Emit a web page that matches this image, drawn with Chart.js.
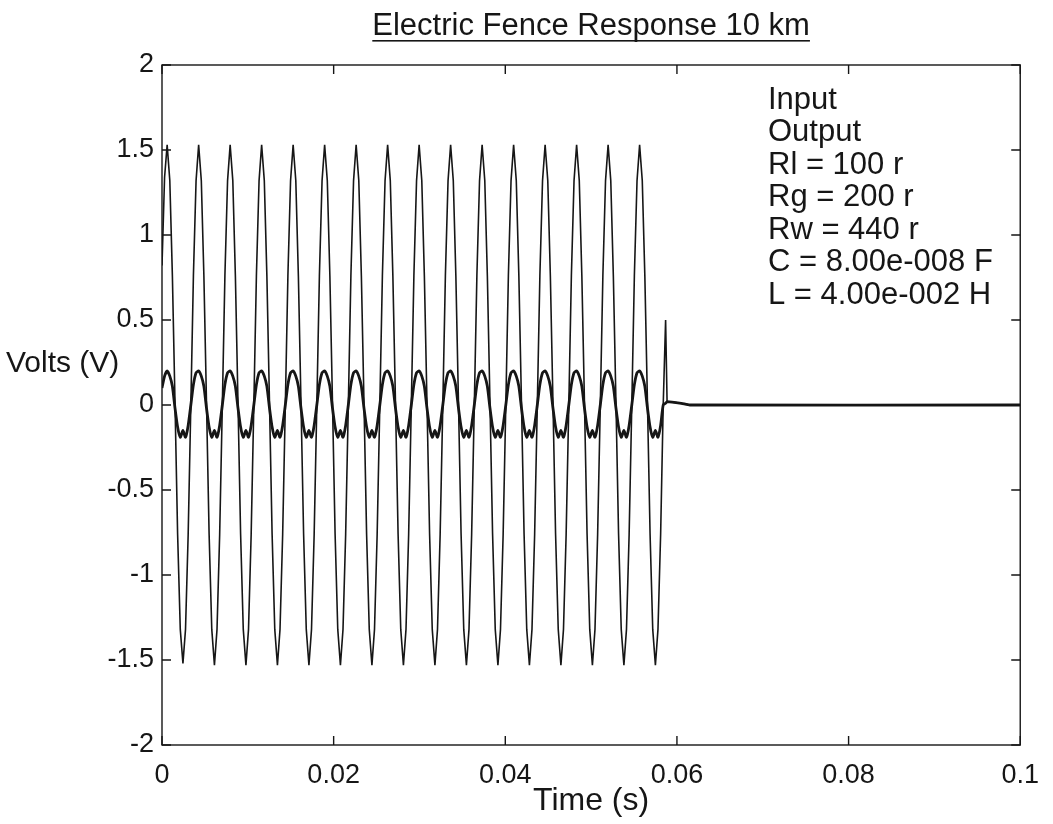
<!DOCTYPE html>
<html>
<head>
<meta charset="utf-8">
<script src="https://cdn.jsdelivr.net/npm/chart.js@4.4.1/dist/chart.umd.min.js"></script>
<style>
  html, body { margin: 0; padding: 0; background: #fff; }
  #wrap { width: 1053px; height: 824px; }
</style>
</head>
<body>
<div id="wrap"><canvas id="fenceChart" width="1053" height="824"></canvas></div>
<script>
// time samples (s)
const timeS = [
  0.00000, 0.00030,
  0.00060, 0.00091, 0.00121, 0.00152, 0.00182, 0.00213, 0.00244, 0.00274, 0.00305, 0.00336, 0.00366, 0.00397,
  0.00427, 0.00458, 0.00488, 0.00519, 0.00549, 0.00580, 0.00611, 0.00641, 0.00672, 0.00703, 0.00733, 0.00764,
  0.00794, 0.00825, 0.00855, 0.00886, 0.00916, 0.00947, 0.00978, 0.01008, 0.01039, 0.01070, 0.01100, 0.01131,
  0.01161, 0.01192, 0.01222, 0.01253, 0.01283, 0.01314, 0.01345, 0.01375, 0.01406, 0.01437, 0.01467, 0.01498,
  0.01528, 0.01559, 0.01589, 0.01620, 0.01650, 0.01681, 0.01712, 0.01742, 0.01773, 0.01804, 0.01834, 0.01865,
  0.01895, 0.01926, 0.01956, 0.01987, 0.02017, 0.02048, 0.02079, 0.02109, 0.02140, 0.02171, 0.02201, 0.02232,
  0.02262, 0.02293, 0.02323, 0.02354, 0.02384, 0.02415, 0.02446, 0.02476, 0.02507, 0.02538, 0.02568, 0.02599,
  0.02629, 0.02660, 0.02690, 0.02721, 0.02751, 0.02782, 0.02813, 0.02843, 0.02874, 0.02905, 0.02935, 0.02966,
  0.02996, 0.03027, 0.03057, 0.03088, 0.03118, 0.03149, 0.03180, 0.03210, 0.03241, 0.03272, 0.03302, 0.03333,
  0.03363, 0.03394, 0.03424, 0.03455, 0.03485, 0.03516, 0.03547, 0.03577, 0.03608, 0.03639, 0.03669, 0.03700,
  0.03730, 0.03761, 0.03791, 0.03822, 0.03852, 0.03883, 0.03914, 0.03944, 0.03975, 0.04006, 0.04036, 0.04067,
  0.04097, 0.04128, 0.04158, 0.04189, 0.04219, 0.04250, 0.04281, 0.04311, 0.04342, 0.04373, 0.04403, 0.04434,
  0.04464, 0.04495, 0.04525, 0.04556, 0.04586, 0.04617, 0.04648, 0.04678, 0.04709, 0.04740, 0.04770, 0.04801,
  0.04831, 0.04862, 0.04892, 0.04923, 0.04953, 0.04984, 0.05015, 0.05045, 0.05076, 0.05107, 0.05137, 0.05168,
  0.05198, 0.05229, 0.05259, 0.05290, 0.05320, 0.05351, 0.05382, 0.05412, 0.05443, 0.05474, 0.05504, 0.05535,
  0.05565, 0.05596, 0.05626, 0.05657, 0.05687, 0.05718, 0.05749, 0.05779, 0.05810, 0.05840,
  0.05868, 0.05885, 0.06050, 0.06150, 0.10000
];

// input voltage (V)
const inputV = [
  0.82, 1.34,
  1.53, 1.32, 0.76, 0.00, -0.76, -1.32, -1.52, -1.32, -0.76, 0.00, 0.76, 1.32,
  1.53, 1.32, 0.76, 0.00, -0.76, -1.32, -1.53, -1.32, -0.76, 0.00, 0.76, 1.32,
  1.53, 1.32, 0.76, 0.00, -0.76, -1.32, -1.53, -1.32, -0.76, 0.00, 0.76, 1.32,
  1.53, 1.32, 0.76, 0.00, -0.76, -1.32, -1.53, -1.32, -0.76, 0.00, 0.76, 1.32,
  1.53, 1.32, 0.76, 0.00, -0.76, -1.32, -1.53, -1.32, -0.76, 0.00, 0.76, 1.32,
  1.53, 1.32, 0.76, 0.00, -0.76, -1.32, -1.53, -1.32, -0.76, 0.00, 0.76, 1.32,
  1.53, 1.32, 0.76, 0.00, -0.76, -1.32, -1.53, -1.32, -0.76, 0.00, 0.76, 1.32,
  1.53, 1.32, 0.76, 0.00, -0.76, -1.32, -1.53, -1.32, -0.76, 0.00, 0.76, 1.32,
  1.53, 1.32, 0.76, 0.00, -0.76, -1.32, -1.53, -1.32, -0.76, 0.00, 0.76, 1.32,
  1.53, 1.32, 0.76, 0.00, -0.76, -1.32, -1.53, -1.32, -0.76, 0.00, 0.76, 1.32,
  1.53, 1.32, 0.76, 0.00, -0.76, -1.32, -1.53, -1.32, -0.76, 0.00, 0.76, 1.32,
  1.53, 1.32, 0.76, 0.00, -0.76, -1.32, -1.53, -1.32, -0.76, 0.00, 0.76, 1.32,
  1.53, 1.32, 0.76, 0.00, -0.76, -1.32, -1.53, -1.32, -0.76, 0.00, 0.76, 1.32,
  1.53, 1.32, 0.76, 0.00, -0.76, -1.32, -1.53, -1.32, -0.76, 0.00, 0.76, 1.32,
  1.53, 1.32, 0.76, 0.00, -0.76, -1.32, -1.53, -1.32, -0.76, 0.00, 0.76, 1.32,
  1.53, 1.32, 0.76, 0.00, -0.76, -1.32, -1.53, -1.32, -0.76, 0.00,
  0.50, 0.02, 0.01, 0.00, 0.00
];

// output voltage (V)
const outputV = [
  0.10, 0.17,
  0.20, 0.17, 0.11, -0.02, -0.13, -0.19, -0.15, -0.19, -0.12, 0.00, 0.12, 0.19,
  0.20, 0.17, 0.11, -0.02, -0.13, -0.19, -0.15, -0.19, -0.12, 0.00, 0.12, 0.19,
  0.20, 0.17, 0.11, -0.02, -0.13, -0.19, -0.15, -0.19, -0.12, 0.00, 0.12, 0.19,
  0.20, 0.17, 0.11, -0.02, -0.13, -0.19, -0.15, -0.19, -0.12, 0.00, 0.12, 0.19,
  0.20, 0.17, 0.11, -0.02, -0.13, -0.19, -0.15, -0.19, -0.12, 0.00, 0.12, 0.19,
  0.20, 0.17, 0.11, -0.02, -0.13, -0.19, -0.15, -0.19, -0.12, 0.00, 0.12, 0.19,
  0.20, 0.17, 0.11, -0.02, -0.13, -0.19, -0.15, -0.19, -0.12, 0.00, 0.12, 0.19,
  0.20, 0.17, 0.11, -0.02, -0.13, -0.19, -0.15, -0.19, -0.12, 0.00, 0.12, 0.19,
  0.20, 0.17, 0.11, -0.02, -0.13, -0.19, -0.15, -0.19, -0.12, 0.00, 0.12, 0.19,
  0.20, 0.17, 0.11, -0.02, -0.13, -0.19, -0.15, -0.19, -0.12, 0.00, 0.12, 0.19,
  0.20, 0.17, 0.11, -0.02, -0.13, -0.19, -0.15, -0.19, -0.12, 0.00, 0.12, 0.19,
  0.20, 0.17, 0.11, -0.02, -0.13, -0.19, -0.15, -0.19, -0.12, 0.00, 0.12, 0.19,
  0.20, 0.17, 0.11, -0.02, -0.13, -0.19, -0.15, -0.19, -0.12, 0.00, 0.12, 0.19,
  0.20, 0.17, 0.11, -0.02, -0.13, -0.19, -0.15, -0.19, -0.12, 0.00, 0.12, 0.19,
  0.20, 0.17, 0.11, -0.02, -0.13, -0.19, -0.15, -0.19, -0.12, 0.00, 0.12, 0.19,
  0.20, 0.17, 0.11, -0.02, -0.13, -0.19, -0.15, -0.19, -0.12, 0.00,
  0.01, 0.02, 0.01, 0.00, 0.00
];

const xTicks = [0, 0.02, 0.04, 0.06, 0.08, 0.1];
const yTicks = [-2, -1.5, -1, -0.5, 0, 0.5, 1, 1.5, 2];
const titleText = 'Electric Fence Response 10 km';
const xLabel = 'Time (s)';
const yLabel = 'Volts (V)';
const noteLines = ['Input', 'Output', 'Rl = 100 r', 'Rg = 200 r', 'Rw = 440 r', 'C = 8.00e-008 F', 'L = 4.00e-002 H'];

const FONT = "'Liberation Sans', Arial, Helvetica, sans-serif";
const INK = '#161616';

function toPoints(vals) {
  return timeS.map((t, i) => ({ x: t, y: vals[i] }));
}

// matlab style frame: box, inward ticks, title, labels, text block
const matlabFrame = {
  id: 'matlabFrame',
  afterDraw(chart) {
    const ctx = chart.ctx;
    const a = chart.chartArea;
    const xs = chart.scales.x, ys = chart.scales.y;
    const midX = (a.left + a.right) / 2;
    ctx.save();
    ctx.strokeStyle = INK;
    ctx.lineWidth = 1.4;
    ctx.strokeRect(a.left, a.top, a.right - a.left, a.bottom - a.top);
    ctx.beginPath();
    xTicks.forEach(v => {
      const px = xs.getPixelForValue(v);
      ctx.moveTo(px, a.bottom); ctx.lineTo(px, a.bottom - 9);
      ctx.moveTo(px, a.top); ctx.lineTo(px, a.top + 9);
    });
    yTicks.forEach(v => {
      const py = ys.getPixelForValue(v);
      ctx.moveTo(a.left, py); ctx.lineTo(a.left + 9, py);
      ctx.moveTo(a.right, py); ctx.lineTo(a.right - 9, py);
    });
    ctx.stroke();

    ctx.fillStyle = INK;
    ctx.textBaseline = 'middle';
    // title, underlined
    ctx.font = '31px ' + FONT;
    ctx.textAlign = 'center';
    const tw = ctx.measureText(titleText).width;
    ctx.fillText(titleText, midX, 26);
    ctx.fillRect(midX - tw / 2, 40, tw, 1.6);
    // axis labels
    ctx.font = '30px ' + FONT;
    ctx.textAlign = 'left';
    ctx.fillText(yLabel, 6, 364);
    ctx.font = '32px ' + FONT;
    ctx.textAlign = 'center';
    ctx.fillText(xLabel, midX, 801);
    // parameter text block
    ctx.font = '31px ' + FONT;
    ctx.textAlign = 'left';
    noteLines.forEach((s, i) => ctx.fillText(s, 768, 100 + i * 32.5));
    ctx.restore();
  }
};

const chartNode = document.getElementById('fenceChart').getContext('2d');

const config = {
  type: 'line',
  data: {
    datasets: [{
      label: 'Input',
      data: toPoints(inputV),
      borderColor: INK,
      borderWidth: 1.6,
      pointRadius: 0,
      tension: 0,
      fill: false
    }, {
      label: 'Output',
      data: toPoints(outputV),
      borderColor: INK,
      borderWidth: 2.8,
      pointRadius: 0,
      tension: 0.2,
      fill: false
    }]
  },
  options: {
    responsive: false,
    animation: false,
    devicePixelRatio: 1,
    layout: { padding: { top: 65, right: 28, left: 0, bottom: 0 } },
    plugins: {
      legend: { display: false },
      tooltip: { enabled: false }
    },
    scales: {
      x: {
        type: 'linear',
        min: 0,
        max: 0.1,
        grid: { display: false, drawTicks: false },
        border: { display: false },
        afterBuildTicks: s => { s.ticks = xTicks.map(v => ({ value: v })); },
        afterFit: s => { s.height = 79; },
        ticks: {
          padding: 14,
          color: INK,
          maxRotation: 0,
          font: { family: FONT, size: 27 },
          callback: v => String(+v.toFixed(2))
        }
      },
      y: {
        min: -2,
        max: 2,
        grid: { display: false, drawTicks: false },
        border: { display: false },
        afterBuildTicks: s => { s.ticks = yTicks.map(v => ({ value: v })); },
        afterFit: s => { s.width = 162; },
        ticks: {
          padding: 8,
          color: INK,
          font: { family: FONT, size: 27 },
          callback: v => String(v)
        }
      }
    }
  },
  plugins: [matlabFrame]
};

const myChart = new Chart(chartNode, config);
</script>
</body>
</html>
